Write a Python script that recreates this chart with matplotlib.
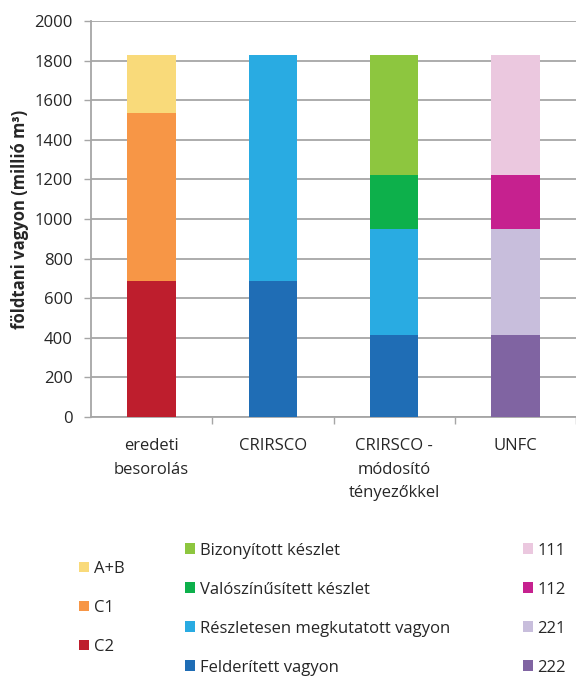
import matplotlib
matplotlib.use("Agg")
import matplotlib.pyplot as plt
from matplotlib.patches import Patch

plt.rcParams['font.family'] = ['Open Sans', 'DejaVu Sans']

categories = ["eredeti\nbesorolás", "CRIRSCO", "CRIRSCO -\nmódosító\ntényezőkkel", "UNFC"]

# eredeti besorolás (bottom -> top)
orig_labels = ["C2", "C1", "A+B"]
orig_values = [686, 851, 291]
orig_colors = ["#BE1E2D", "#F79646", "#F9DA7A"]

# CRIRSCO (bottom -> top)
crirsco_labels = ["Felderített vagyon", "Részletesen megkutatott vagyon"]
crirsco_values = [686, 1142]

# CRIRSCO - módosító tényezőkkel (bottom -> top)
mod_labels = ["Felderített vagyon", "Részletesen megkutatott vagyon",
              "Valószínűsített készlet", "Bizonyított készlet"]
mod_values = [416, 534, 272, 606]
mod_colors = ["#1F6DB5", "#29ABE2", "#0DB04B", "#8DC63F"]

# UNFC (bottom -> top)
unfc_labels = ["222", "221", "112", "111"]
unfc_values = [416, 534, 272, 606]
unfc_colors = ["#8064A2", "#C8BEDC", "#C6218F", "#EBC8DF"]

fig = plt.figure(figsize=(5.76, 6.79), dpi=100)
ax = fig.add_axes([0.158, 0.386, 0.842, 0.583])

bw = 0.40
def stack(x, values, colors):
    bottom = 0
    for v, c in zip(values, colors):
        ax.bar(x, v, bw, bottom=bottom, color=c, zorder=3)
        bottom += v

stack(0, orig_values, orig_colors)
stack(1, crirsco_values, mod_colors[:2])
stack(2, mod_values, mod_colors)
stack(3, unfc_values, unfc_colors)

ax.set_xlim(-0.5, 3.5)
ax.set_ylim(0, 2000)
ax.set_yticks(range(0, 2001, 200))
ax.yaxis.grid(True, color="#A6A6A6", linewidth=1.3, zorder=0)
ax.set_xticks(range(4))
ax.set_xticklabels(categories, fontsize=12, color="#262626", linespacing=1.65)
ax.set_xticks([0.5, 1.5, 2.5, 3.5], minor=True)
ax.tick_params(axis='x', which='major', length=0, pad=15)
ax.tick_params(axis='x', which='minor', length=5, color="#A6A6A6", width=1)
ax.tick_params(axis='y', length=5, color="#A6A6A6", width=1, labelsize=12,
               labelcolor="#262626", pad=8)
for s in ["top", "right"]:
    ax.spines[s].set_visible(False)
for s in ["left", "bottom"]:
    ax.spines[s].set_color("#A6A6A6")
    ax.spines[s].set_linewidth(1.3)
ax.set_ylabel("földtani vagyon (millió m³)", fontsize=12, fontweight="bold",
              color="#262626", labelpad=4)

def legend(labels, colors, x, y):
    handles = [Patch(facecolor=c, edgecolor="none") for c in colors]
    lg = fig.legend(handles[::-1], labels[::-1], loc="center left",
                    bbox_to_anchor=(x, y), frameon=False, fontsize=12,
                    handlelength=0.6, handleheight=0.6, handletextpad=0.25,
                    labelspacing=1.38, borderpad=0, borderaxespad=0,
                    labelcolor="#262626")
    return lg

legend(orig_labels, orig_colors, 0.138, 0.105)
legend(mod_labels, mod_colors, 0.322, 0.103)
legend(unfc_labels, unfc_colors, 0.908, 0.103)

fig.savefig("out.png", dpi=100)
